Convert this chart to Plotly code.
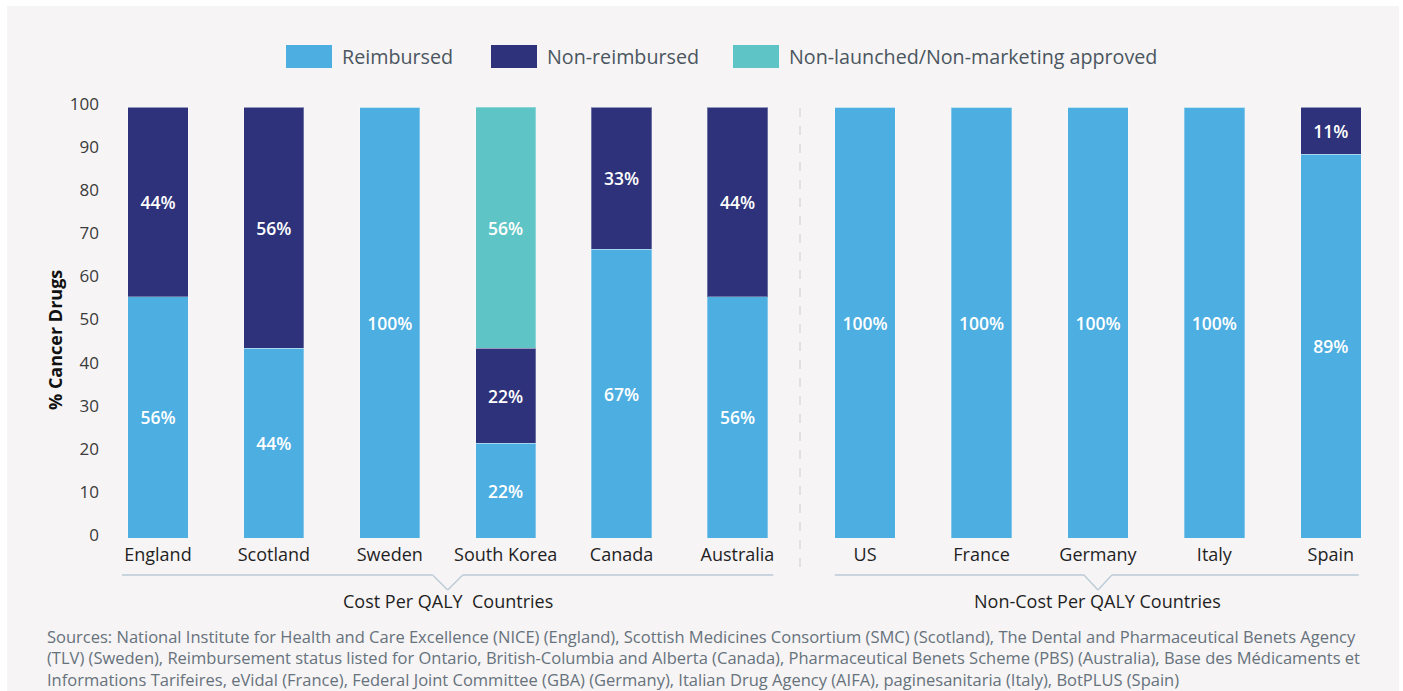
import plotly.graph_objects as go

# ---------------- data ----------------
left_countries = ["England", "Scotland", "Sweden", "South Korea", "Canada", "Australia"]
right_countries = ["US", "France", "Germany", "Italy", "Spain"]

series_names = ["Reimbursed", "Non-reimbursed", "Non-launched/Non-marketing approved"]
reimbursed_left = [56, 44, 100, 22, 67, 56]
nonreimbursed_left = [44, 56, 0, 22, 33, 44]
nonlaunched_left = [0, 0, 0, 56, 0, 0]
reimbursed_right = [100, 100, 100, 100, 89]
nonreimbursed_right = [0, 0, 0, 0, 11]
nonlaunched_right = [0, 0, 0, 0, 0]

y_ticks = [0, 10, 20, 30, 40, 50, 60, 70, 80, 90, 100]
y_title = "% Cancer Drugs"
group_labels = ["Cost Per QALY  Countries", "Non-Cost Per QALY Countries"]
sources = ("Sources: National Institute for Health and Care Excellence (NICE) (England), Scottish Medicines Consortium (SMC) (Scotland), The Dental and Pharmaceutical Benets Agency<br>"
           "(TLV) (Sweden), Reimbursement status listed for Ontario, British-Columbia and Alberta (Canada), Pharmaceutical Benets Scheme (PBS) (Australia), Base des Médicaments et<br>"
           "Informations Tarifeires, eVidal (France), Federal Joint Committee (GBA) (Germany), Italian Drug Agency (AIFA), paginesanitaria (Italy), BotPLUS (Spain)")

colors = ["#4daee1", "#2d327a", "#5ec4c5"]
FONT = "'Open Sans', Lato, sans-serif"
PANEL = "#f6f4f5"

# ---------------- figure ----------------
W, H = 1403, 691
ML, MR, MT, MB = 100, 14, 107, 153
PW, PH = W - ML - MR, H - MT - MB


def px_x(p):
    return (p - ML) / PW


def px_y(p):
    return (H - MB - p) / PH


fig = go.Figure()
left_data = [reimbursed_left, nonreimbursed_left, nonlaunched_left]
right_data = [reimbursed_right, nonreimbursed_right, nonlaunched_right]

for name, col, ld, rd in zip(series_names, colors, left_data, right_data):
    for cats, vals, xa in ((left_countries, ld, "x"), (right_countries, rd, "x2")):
        fig.add_trace(go.Bar(
            x=cats, y=vals, name=name, xaxis=xa, yaxis="y",
            marker=dict(color=col, line=dict(color="rgba(255,255,255,0.3)", width=1)),
            text=[f"{v}%" if v > 0 else "" for v in vals],
            textposition="inside", insidetextanchor="middle", textangle=0,
            textfont=dict(color="white", size=17.5, family="'Open Sans', sans-serif", weight=600),
            showlegend=False, hoverinfo="x+y+name",
        ))

left_dom = [0, px_x(795.4)]
right_dom = [px_x(806.9), 1]

fig.update_layout(
    width=W, height=H,
    margin=dict(l=ML, r=MR, t=MT, b=MB),
    barmode="stack", bargap=0.48,
    paper_bgcolor="white", plot_bgcolor=PANEL,
    font=dict(family=FONT, color="#222"),
    xaxis=dict(domain=left_dom, anchor="y", showgrid=False, showline=False, zeroline=False,
               tickfont=dict(size=18, color="#1f1f1f"), ticks="", ticklabelstandoff=4),
    xaxis2=dict(domain=right_dom, anchor="y", showgrid=False, showline=False, zeroline=False,
                tickfont=dict(size=18, color="#1f1f1f"), ticks="", ticklabelstandoff=4),
    yaxis=dict(range=[0, 100], tickvals=y_ticks, showgrid=False, showline=False, zeroline=False,
               tickfont=dict(size=17, color="#3a3a3a"), ticks="", ticklabelshift=-3),
)

shapes = []
# panel background
shapes.append(dict(type="rect", xref="paper", yref="paper", x0=px_x(7), x1=px_x(1399),
                   y0=px_y(6), y1=px_y(H + 5), fillcolor=PANEL, line=dict(width=0), layer="below"))
# divider
shapes.append(dict(type="line", xref="paper", yref="paper", x0=px_x(800), x1=px_x(800),
                   y0=px_y(108), y1=px_y(575), line=dict(color="#d4d4d6", width=1.2, dash="dash")))
# brackets
br_col = "#b9cad6"
y_line, y_apex = px_y(575), px_y(590)
for xa, n, lo, hi, notch in (("x", len(left_countries), -0.31, 0.31, 0.13),
                              ("x2", len(right_countries), -0.26, 0.24, 0.12)):
    mid = (n - 1) / 2
    shapes += [
        dict(type="line", xref=xa, yref="paper", x0=lo, x1=mid - notch, y0=y_line, y1=y_line, line=dict(color=br_col, width=1.3)),
        dict(type="line", xref=xa, yref="paper", x0=mid - notch, x1=mid, y0=y_line, y1=y_apex, line=dict(color=br_col, width=1.3)),
        dict(type="line", xref=xa, yref="paper", x0=mid, x1=mid + notch, y0=y_apex, y1=y_line, line=dict(color=br_col, width=1.3)),
        dict(type="line", xref=xa, yref="paper", x0=mid + notch, x1=n - 1 + hi, y0=y_line, y1=y_line, line=dict(color=br_col, width=1.3)),
    ]

annotations = []
# group labels
annotations.append(dict(text=group_labels[0], xref="x", yref="paper", x=(len(left_countries) - 1) / 2,
                        y=px_y(601), showarrow=False, font=dict(size=18, color="#1f1f1f"),
                        xanchor="center", yanchor="middle"))
annotations.append(dict(text=group_labels[1], xref="x2", yref="paper", x=(len(right_countries) - 1) / 2,
                        y=px_y(601), showarrow=False, font=dict(size=18, color="#1f1f1f"),
                        xanchor="center", yanchor="middle"))
# y title
annotations.append(dict(text=f"<b>{y_title}</b>", xref="paper", yref="paper", x=px_x(55), y=px_y(340),
                        xanchor="center", yanchor="middle",
                        textangle=-90, showarrow=False, font=dict(size=18, color="#111")))
# sources
annotations.append(dict(text=sources, xref="paper", yref="paper", x=px_x(45), y=px_y(658),
                        xanchor="left", yanchor="middle", align="left", showarrow=False,
                        font=dict(size=16.5, color="#66727c")))

# custom legend
legend_swatch_x = [286, 491, 733]
for name, col, sx in zip(series_names, colors, legend_swatch_x):
    shapes.append(dict(type="rect", xref="paper", yref="paper", x0=px_x(sx), x1=px_x(sx + 46),
                       y0=px_y(68), y1=px_y(45), fillcolor=col, line=dict(width=0)))
    annotations.append(dict(text=name, xref="paper", yref="paper", x=px_x(sx + 54), y=px_y(56.5),
                            xanchor="left", yanchor="middle", showarrow=False,
                            font=dict(size=19.7, color="#4a5660")))

fig.update_layout(shapes=shapes, annotations=annotations)
fig.write_html("out.html", config={"displayModeBar": False},
               post_script="document.body.style.margin='0';document.body.style.overflow='hidden';")
